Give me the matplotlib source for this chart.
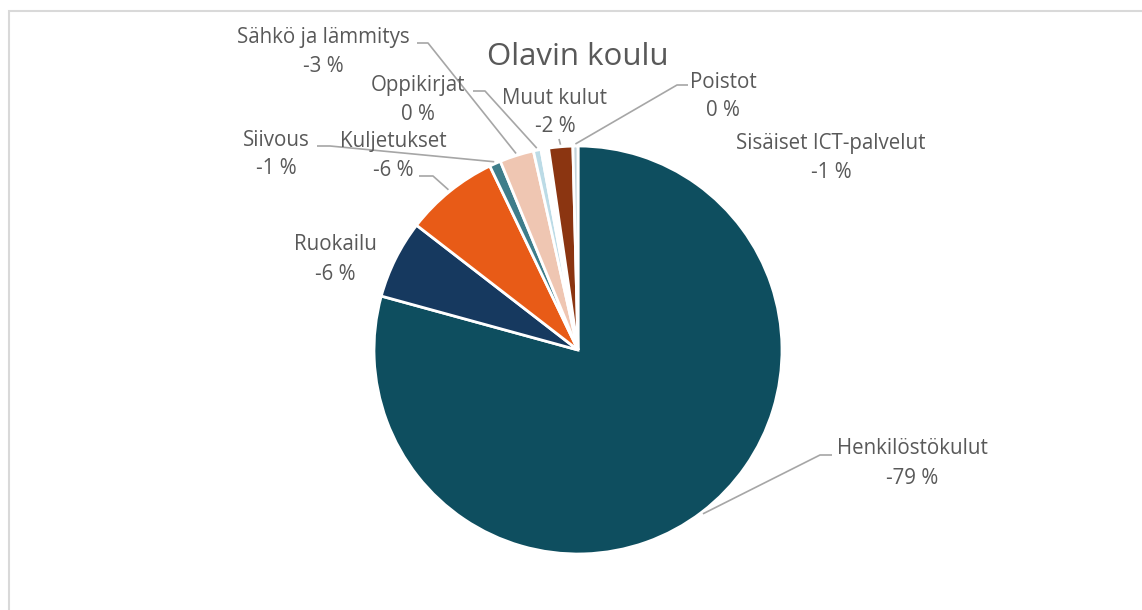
import matplotlib
matplotlib.use('Agg')
import numpy as np
import matplotlib.pyplot as plt
from matplotlib.patches import Rectangle

# 1142x610 px kuva
W, H = 1142, 610

# Kustannuserät (myötäpäivään klo 12:sta), osuudet luettu kuvasta
categories = ['Henkilöstökulut', 'Ruokailu', 'Kuljetukset', 'Siivous',
              'Sähkö ja lämmitys', 'Oppikirjat', 'Sisäiset ICT-palvelut',
              'Muut kulut', 'Poistot']
shares = [79.1, 6.2, 7.4, 0.9, 2.7, 0.6, 0.6, 1.9, 0.4]
pct_labels = ['-79 %', '-6 %', '-6 %', '-1 %', '-3 %', '0 %', '-1 %', '-2 %', '0 %']
colors = ['#0e4e5f', '#16395f', '#e85b17', '#3e7d8a', '#efc6b2',
          '#bcdbe6', '#ffffff', '#8b3511', '#c3d3da']

# tekstien paikat (keskikohta x, ensimmäisen rivin y) pikseleinä
label_xy = [(912, 449), (335, 245), (393, 141), (276, 140), (323, 38),
            (418, 85), (831, 144), (555, 98), (723, 82)]
# johtoviivojen alkupisteet tekstin päässä (None = ei viivaa)
leader_start = [[(832, 455), (820, 455)], None, [(419, 176), (433, 176)],
                [(317, 146), (330, 146)], [(417, 43), (428, 43)],
                [(473, 91), (485, 91)], None, [(559, 139)],
                [(688, 85), (677, 85)]]

TEXT = '#595959'
LINE = '#a6a6a6'
plt.rcParams['font.family'] = ['Open Sans', 'DejaVu Sans']

fig = plt.figure(figsize=(W / 100, H / 100), dpi=100)
ax = fig.add_axes([0, 0, 1, 1])

CX, CY, R = 578, 350, 204
wedges, _ = ax.pie(shares, colors=colors, startangle=90, counterclock=False,
                   center=(CX, H - CY), radius=R,
                   wedgeprops=dict(edgecolor='white', linewidth=2))
ax.set_xlim(0, W)
ax.set_ylim(0, H)
ax.set_aspect('equal')
ax.axis('off')

# kehys
ax.add_patch(Rectangle((8.5, -20), W + 20, H - 10.5 + 20, fill=False,
                       edgecolor='#d9d9d9', linewidth=1.5))

ax.text(578, H - 57, 'Olavin koulu', ha='center', va='center',
        fontsize=22.5, color=TEXT)

for i, w in enumerate(wedges):
    x, y = label_xy[i]
    ax.text(x, H - y, categories[i], ha='center', va='center',
            fontsize=14.8, color=TEXT)
    ax.text(x, H - y - 29, pct_labels[i], ha='center', va='center',
            fontsize=14.8, color=TEXT)
    if leader_start[i] is None:
        continue
    theta = np.deg2rad((w.theta1 + w.theta2) / 2)
    ax_x = CX + R * 1.01 * np.cos(theta)
    ax_y = (H - CY) + R * 1.01 * np.sin(theta)
    xs = [p[0] for p in leader_start[i]] + [ax_x]
    ys = [H - p[1] for p in leader_start[i]] + [ax_y]
    ax.plot(xs, ys, color=LINE, linewidth=1.2, solid_capstyle='butt')

fig.savefig('out.png', dpi=100)
